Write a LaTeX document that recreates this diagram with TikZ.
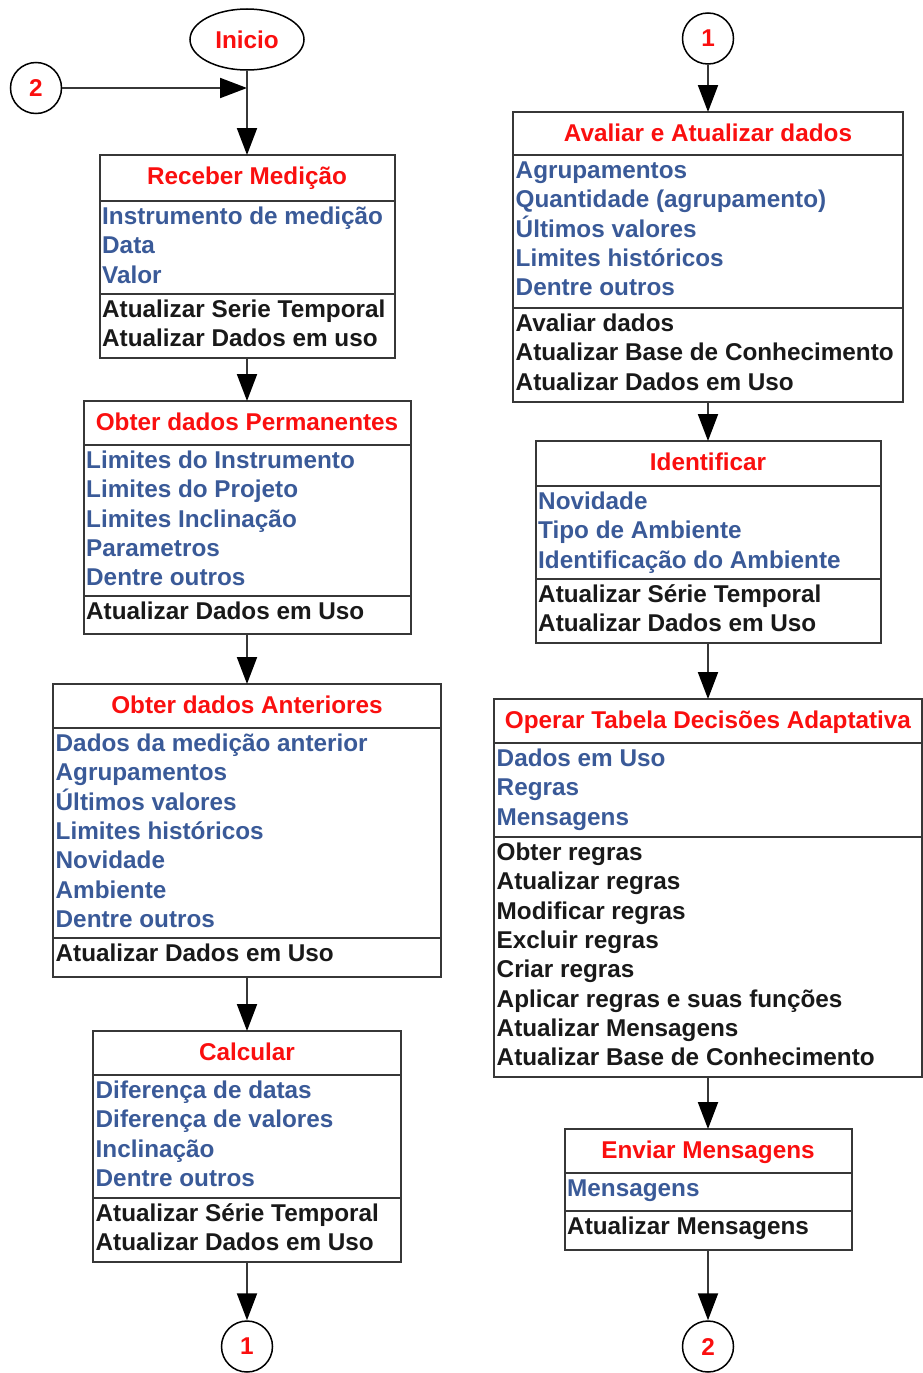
\documentclass[tikz,border=0pt]{standalone}
\usepackage{fontspec}
\setmainfont{Liberation Sans}
\usetikzlibrary{arrows.meta,shapes.geometric}

\definecolor{headred}{RGB}{250,15,15}
\definecolor{attrblue}{RGB}{58,90,152}
\definecolor{opblack}{RGB}{25,25,25}
\definecolor{edgegray}{RGB}{55,55,55}

\tikzset{
  every node/.style={font=\fontsize{24.3}{29}\selectfont\bfseries},
  frame/.style={draw=edgegray, line width=2pt, rectangle, inner sep=0pt, outer sep=0pt},
  divider/.style={draw=edgegray, line width=2pt},
  titletext/.style={text=headred, inner sep=0pt},
  attrtext/.style={text=attrblue, inner sep=0pt},
  optext/.style={text=opblack, inner sep=0pt},
  link/.style={draw=edgegray, line width=2pt,
    -{Triangle[length=27pt,width=20pt,color=black]}},
  connector/.style={circle, draw=black, line width=1.5pt, minimum size=51pt,
    inner sep=0pt, text=headred},
  startnode/.style={ellipse, draw=black, line width=1.5pt, minimum width=114pt,
    minimum height=61pt, inner sep=0pt, text=headred},
}

% frame of a three-part box: name, centre x, width, top, split 1, split 2, bottom, title
\newcommand\stepframe[8]{%
  \node[frame, minimum width=#3pt, minimum height={(#7-#4)*1pt}, anchor=north]
    (#1) at (#2,#4) {};
  \draw[divider] ({#2-#3/2},#5) -- ({#2+#3/2},#5);
  \draw[divider] ({#2-#3/2},#6) -- ({#2+#3/2},#6);
  \node[titletext, anchor=base] (#1title) at (#2,{#4+29.5}) {#8};
}

% left-aligned text lines: name prefix, style, centre x, width, first baseline, lines
\newcommand\steplines[6]{%
  \foreach \t [count=\i from 0] in {#6} {
    \node[#2, anchor=base west] (#1\i) at ({#3-#4/2+2.5},{#5+29.3*\i}) {\t};
  }
}

\begin{document}
\begin{tikzpicture}[x=1pt,y=-1pt]
\useasboundingbox (0,0) rectangle (923,1373);

% ---------- left column ----------
\node[startnode] (inicio) at (247,39.5) {Inicio};
\node[connector] (goto2) at (36,88) {2};
\coordinate (join) at (247,88);

\stepframe{b1}{247}{295}{155}{201}{294}{358}{Receber Medição}
\steplines{b1a}{attrtext}{247}{295}{224.5}{Instrumento de medição,Data,Valor}
\steplines{b1o}{optext}{247}{295}{317.5}{Atualizar Serie Temporal,Atualizar Dados em uso}

\stepframe{b2}{247}{327}{401}{445}{596}{634}{Obter dados Permanentes}
\steplines{b2a}{attrtext}{247}{327}{468.5}{Limites do Instrumento,Limites do Projeto,Limites Inclinação,Parametros,Dentre outros}
\steplines{b2o}{optext}{247}{327}{619.5}{Atualizar Dados em Uso}

\stepframe{b3}{247}{388}{684}{728}{938}{977}{Obter dados Anteriores}
\steplines{b3a}{attrtext}{247}{388}{751.5}{Dados da medição anterior,Agrupamentos,Últimos valores,Limites históricos,Novidade,Ambiente,Dentre outros}
\steplines{b3o}{optext}{247}{388}{961.5}{Atualizar Dados em Uso}

\stepframe{b4}{247}{308}{1031}{1075}{1198}{1262}{Calcular}
\steplines{b4a}{attrtext}{247}{308}{1098.5}{Diferença de datas,Diferença de valores,Inclinação,Dentre outros}
\steplines{b4o}{optext}{247}{308}{1221.5}{Atualizar Série Temporal,Atualizar Dados em Uso}

\node[connector] (to1) at (247,1346.5) {1};

% ---------- right column ----------
\node[connector] (from1) at (708,38.5) {1};

\stepframe{r1}{708}{390}{112}{155}{308}{402}{Avaliar e Atualizar dados}
\steplines{r1a}{attrtext}{708}{390}{178.5}{Agrupamentos,Quantidade (agrupamento),Últimos valores,Limites históricos,Dentre outros}
\steplines{r1o}{optext}{708}{390}{331.5}{Avaliar dados,Atualizar Base de Conhecimento,Atualizar Dados em Uso}

\stepframe{r2}{708}{345}{441}{486}{579}{643}{Identificar}
\steplines{r2a}{attrtext}{708}{345}{509.5}{Novidade,Tipo de Ambiente,Identificação do Ambiente}
\steplines{r2o}{optext}{708}{345}{602.5}{Atualizar Série Temporal,Atualizar Dados em Uso}

\stepframe{r3}{708}{428}{699}{743}{837}{1077}{Operar Tabela Decisões Adaptativa}
\steplines{r3a}{attrtext}{708}{428}{766.5}{Dados em Uso,Regras,Mensagens}
\steplines{r3o}{optext}{708}{428}{860.5}{Obter regras,Atualizar regras,Modificar regras,Excluir regras,Criar regras,Aplicar regras e suas funções,Atualizar Mensagens,Atualizar Base de Conhecimento}

\stepframe{r4}{708}{287}{1129}{1173}{1211}{1250}{Enviar Mensagens}
\steplines{r4a}{attrtext}{708}{287}{1196.5}{Mensagens}
\steplines{r4o}{optext}{708}{287}{1234.5}{Atualizar Mensagens}

\node[connector] (goto2b) at (708,1346.5) {2};

% ---------- connectors ----------
\draw[link] (goto2) -- (join);
\draw[link] (inicio) -- (b1);
\draw[link] (b1) -- (b2);
\draw[link] (b2) -- (b3);
\draw[link] (b3) -- (b4);
\draw[link] (b4) -- (to1);

\draw[link] (from1) -- (r1);
\draw[link] (r1) -- (r2);
\draw[link] (r2) -- (r3);
\draw[link] (r3) -- (r4);
\draw[link] (r4) -- (goto2b);
\end{tikzpicture}
\end{document}
